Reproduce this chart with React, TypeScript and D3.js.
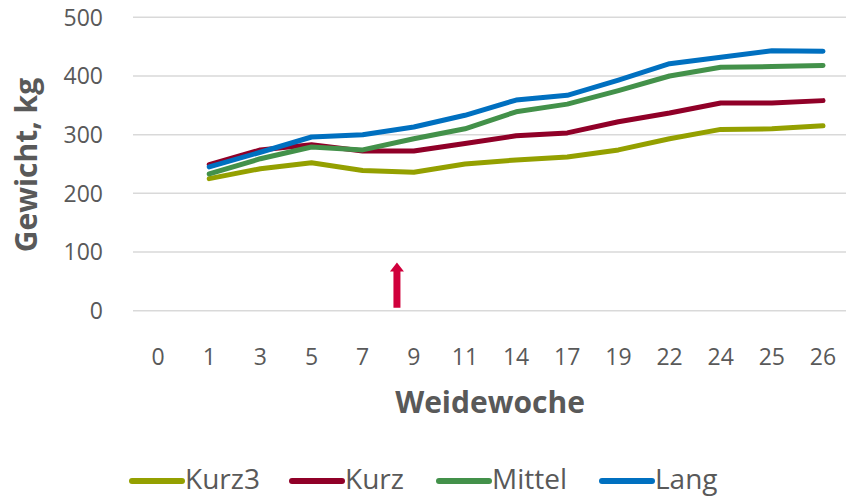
import React, { useEffect, useRef } from "react";
import * as d3 from "d3";

// weeks on pasture (x categories)
const weeks = ["0", "1", "3", "5", "7", "9", "11", "14", "17", "19", "22", "24", "25", "26"];
const yTicks = [0, 100, 200, 300, 400, 500];

// weights in kg, first value belongs to week 1
const kurz3 = [225, 242, 252, 239, 236, 250, 257, 262, 274, 293, 309, 310, 315];
const kurz = [249, 274, 283, 272, 272, 285, 298, 303, 322, 337, 354, 354, 358];
const mittel = [233, 259, 279, 274, 293, 310, 339, 352, 375, 400, 415, 416, 418];
const lang = [245, 270, 296, 300, 313, 333, 359, 367, 393, 421, 432, 443, 442];

const seriesNames = ["Kurz3", "Kurz", "Mittel", "Lang"];
const seriesData = [kurz3, kurz, mittel, lang];
const colors = ["#94A000", "#900028", "#43914A", "#0070C0"];

// arrow marker: between week 7 and 9, from 5 to 82 kg
const arrowAfter = "7";
const arrowOffset = 0.67;
const arrowFrom = 5;
const arrowTo = 82;

const font = "'Open Sans', sans-serif";
const textColor = "#595959";

export default function App() {
  const svgRef = useRef<SVGSVGElement>(null);

  useEffect(() => {
    const w = 846;
    const h = 497;
    const svg = d3.select(svgRef.current).attr("width", w).attr("height", h);
    svg.selectAll("*").remove();

    const x = d3.scaleBand().domain(weeks).range([132.5, 848.6]);
    const y = d3.scaleLinear().domain([0, 500]).range([310.7, 17.3]);
    const cx = (d: string) => (x(d) as number) + x.bandwidth() / 2;

    // grid
    svg
      .append("g")
      .selectAll("line")
      .data(yTicks)
      .enter()
      .append("line")
      .attr("x1", 133)
      .attr("x2", w)
      .attr("y1", (d) => y(d))
      .attr("y2", (d) => y(d))
      .attr("stroke", "#D9D9D9")
      .attr("stroke-width", 1.5);

    // y tick labels
    svg
      .append("g")
      .selectAll("text")
      .data(yTicks)
      .enter()
      .append("text")
      .attr("x", 103)
      .attr("y", (d) => y(d))
      .attr("dy", "0.36em")
      .attr("text-anchor", "end")
      .attr("font-family", font)
      .attr("font-size", 23)
      .attr("fill", textColor)
      .text((d) => d);

    // x tick labels
    svg
      .append("g")
      .selectAll("text")
      .data(weeks)
      .enter()
      .append("text")
      .attr("x", (d) => cx(d))
      .attr("y", 365)
      .attr("text-anchor", "middle")
      .attr("font-family", font)
      .attr("font-size", 23)
      .attr("fill", textColor)
      .text((d) => d);

    // axis titles
    svg
      .append("text")
      .attr("transform", "translate(37,165) rotate(-90)")
      .attr("text-anchor", "middle")
      .attr("font-family", font)
      .attr("font-size", 30)
      .attr("font-weight", "bold")
      .attr("fill", textColor)
      .text("Gewicht, kg");

    svg
      .append("text")
      .attr("x", 490)
      .attr("y", 413)
      .attr("text-anchor", "middle")
      .attr("font-family", font)
      .attr("font-size", 30)
      .attr("font-weight", "bold")
      .attr("fill", textColor)
      .text("Weidewoche");

    // lines
    const lineWeeks = weeks.slice(1);
    const line = d3
      .line<number>()
      .x((d, i) => cx(lineWeeks[i]))
      .y((d) => y(d));

    svg
      .selectAll(".line")
      .data(seriesData)
      .enter()
      .append("path")
      .attr("class", "line")
      .attr("fill", "none")
      .attr("stroke", (d, i) => colors[i])
      .attr("stroke-width", 5)
      .attr("stroke-linecap", "round")
      .attr("stroke-linejoin", "round")
      .attr("d", line);

    // arrow
    const ax = cx(arrowAfter) + arrowOffset * x.step();
    const top = y(arrowTo);
    const bottom = y(arrowFrom);
    const head = 9;
    svg
      .append("path")
      .attr("fill", "#D0003C")
      .attr(
        "d",
        `M${ax - 3.5},${bottom} L${ax - 3.5},${top + head} L${ax - 7},${top + head} L${ax},${top} L${ax + 7},${top + head} L${ax + 3.5},${top + head} L${ax + 3.5},${bottom} Z`
      );

    // legend
    const legendX = [130, 290, 437, 600];
    const lg = svg
      .append("g")
      .selectAll("g")
      .data(seriesNames)
      .enter()
      .append("g")
      .attr("transform", (d, i) => `translate(${legendX[i]},0)`);
    lg.append("line")
      .attr("x1", 2)
      .attr("x2", 52)
      .attr("y1", 481)
      .attr("y2", 481)
      .attr("stroke", (d, i) => colors[i])
      .attr("stroke-width", 6)
      .attr("stroke-linecap", "round");
    lg.append("text")
      .attr("x", 55)
      .attr("y", 489)
      .attr("font-family", font)
      .attr("font-size", 28)
      .attr("fill", textColor)
      .text((d) => d);
  }, []);

  return (
    <div>
      <svg ref={svgRef} style={{ display: "block", position: "absolute", left: 0, top: 0 }}></svg>
    </div>
  );
}
